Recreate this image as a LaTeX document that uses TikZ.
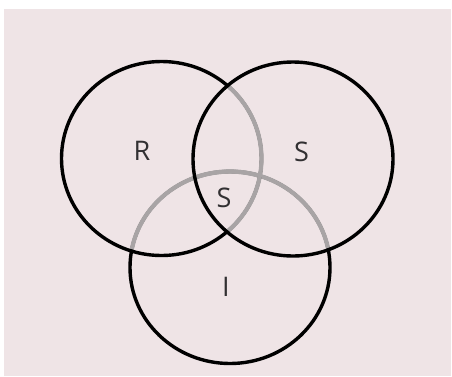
\documentclass[tikz,border=0pt]{standalone}
\usepackage{fontspec}
\setmainfont{Open Sans}
\definecolor{fondo}{RGB}{239,228,230}
\definecolor{gris}{RGB}{168,164,165}
\definecolor{letra}{RGB}{50,48,50}
\begin{document}
\begin{tikzpicture}[x=1pt, y=-1pt, line width=3.4pt,
    parte gris/.style={draw=gris, line width=4.2pt},
    etiqueta/.style={inner sep=0pt, text=letra, font=\fontsize{27}{30}\selectfont}]
    % Fondo
    \useasboundingbox (0,0) rectangle (452,376);
    \fill[white] (0,0) rectangle (452,376);
    \fill[fondo] (4,9) rectangle (451,376);

    % Circulo de abajo, con su parte gris
    \draw (230,267.5) ellipse (100pt and 96pt);
    \begin{scope}
        \clip (161.5,158.5) ellipse (98.3pt and 95.3pt);
        \draw[parte gris] (230,267.5) ellipse (100pt and 96pt);
    \end{scope}
    \begin{scope}
        \clip (293,159) ellipse (98.3pt and 95.3pt);
        \draw[parte gris] (230,267.5) ellipse (100pt and 96pt);
    \end{scope}

    % Circulo izquierdo, con su parte gris
    \draw (161.5,158.5) ellipse (100pt and 97pt);
    \begin{scope}
        \clip (293,159) ellipse (98.3pt and 95.3pt);
        \draw[parte gris] (161.5,158.5) ellipse (100pt and 97pt);
    \end{scope}

    % Circulo derecho
    \draw (293,159) ellipse (100pt and 97pt);

    % Letras
    \node[etiqueta] (r) at (142,150.5) {R};
    \node[etiqueta] (s) at (301.5,151.5) {S};
    \node[etiqueta] (sc) at (224,198) {S};
    \node[etiqueta] (i) at (226,287) {I};
\end{tikzpicture}
\end{document}
